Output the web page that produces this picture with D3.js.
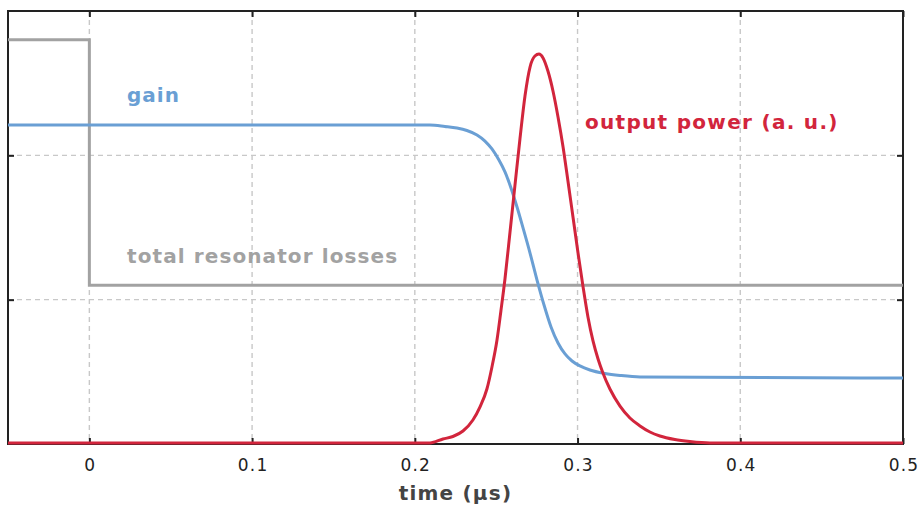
<!DOCTYPE html>
<html>
<head>
<meta charset="utf-8">
<script src="https://cdn.jsdelivr.net/npm/d3@7/dist/d3.min.js"></script>
<style>
  html, body { margin: 0; padding: 0; background: #fff; }
  svg { display: block; }
</style>
</head>
<body>
<svg id="chart" width="920" height="508"></svg>
<script>
// Q-switched laser pulse: gain, resonator losses and output power vs. time

// x axis ticks (µs)
const xTicks = [0, 0.1, 0.2, 0.3, 0.4, 0.5];
const yGrid = [1, 2];

// total resonator losses: high while the Q-switch is closed, drops at t = 0
const lossT = [-0.05, 0, 0, 0.5];
const lossV = [2.8, 2.8, 1.1, 1.1];

// gain (stored inversion) depleted by the pulse
const gainT = [-0.05, 0.2093, 0.2185, 0.2259, 0.2320, 0.2382, 0.2431, 0.2474, 0.2517, 0.2554,
               0.2591, 0.2628, 0.2665, 0.2708, 0.2751, 0.2794, 0.2837, 0.2880, 0.2923, 0.2966,
               0.3015, 0.3076, 0.3169, 0.3261, 0.3384, 0.5];
const gainV = [2.21, 2.21, 2.20, 2.189, 2.172, 2.141, 2.099, 2.044, 1.967, 1.885,
               1.774, 1.642, 1.497, 1.323, 1.136, 0.963, 0.811, 0.700, 0.624, 0.575,
               0.541, 0.513, 0.489, 0.475, 0.464, 0.457];

// output power (arbitrary units)
const powerT = [-0.05, 0.2093, 0.2173, 0.2234, 0.2296, 0.2357, 0.2400, 0.2443, 0.2474, 0.2505,
                0.2529, 0.2554, 0.2585, 0.2615, 0.2646, 0.2677, 0.2708, 0.2738, 0.2763, 0.2788,
                0.2818, 0.2849, 0.2880, 0.2911, 0.2941, 0.2972, 0.3003, 0.3034, 0.3064, 0.3095,
                0.3126, 0.3156, 0.3199, 0.3261, 0.3322, 0.3384, 0.3445, 0.3506, 0.3598, 0.3690,
                0.3813, 0.5];
const powerV = [0, 0, 0.028, 0.045, 0.083, 0.159, 0.249, 0.374, 0.527, 0.714,
                0.915, 1.136, 1.462, 1.781, 2.106, 2.404, 2.605, 2.681, 2.695, 2.668,
                2.577, 2.439, 2.259, 2.051, 1.815, 1.566, 1.316, 1.081, 0.873, 0.707,
                0.582, 0.485, 0.374, 0.256, 0.173, 0.118, 0.076, 0.0485, 0.024, 0.010,
                0, 0];

const colors = { gain: "#6a9fd4", power: "#d2253c", loss: "#a2a2a2" };

const svg = d3.select("#chart");
const plotL = 8, plotR = 903, plotT = 11, plotB = 444;

const x = d3.scaleLinear().domain([-0.05, 0.5]).range([plotL, plotR]);
const y = d3.scaleLinear().domain([0, 3]).range([plotB, plotT]);

// dashed grid
const grid = svg.append("g")
  .attr("stroke", "#c8c8c8").attr("stroke-width", 1.4).attr("stroke-dasharray", "5,4");
grid.selectAll("line.v").data(xTicks.filter(d => d < 0.5)).join("line").attr("class", "v")
  .attr("x1", d => x(d)).attr("x2", d => x(d)).attr("y1", plotT).attr("y2", plotB);
grid.selectAll("line.h").data(yGrid).join("line").attr("class", "h")
  .attr("x1", plotL).attr("x2", plotR).attr("y1", d => y(d)).attr("y2", d => y(d));

// frame with inward ticks
svg.append("rect")
  .attr("x", plotL).attr("y", plotT).attr("width", plotR - plotL).attr("height", plotB - plotT)
  .attr("fill", "none").attr("stroke", "#222").attr("stroke-width", 2);

const axB = d3.axisBottom(x).tickValues(xTicks).tickSizeInner(-6).tickSizeOuter(0).tickFormat("");
const axT = d3.axisTop(x).tickValues(xTicks).tickSizeInner(-6).tickSizeOuter(0).tickFormat("");
const axL = d3.axisLeft(y).tickValues(yGrid).tickSizeInner(-6).tickSizeOuter(0).tickFormat("");
const axR = d3.axisRight(y).tickValues(yGrid).tickSizeInner(-6).tickSizeOuter(0).tickFormat("");
[[axB, `translate(0,${plotB})`], [axT, `translate(0,${plotT})`],
 [axL, `translate(${plotL},0)`], [axR, `translate(${plotR},0)`]].forEach(([ax, tr]) => {
  const g = svg.append("g").attr("transform", tr).call(ax);
  g.select(".domain").remove();
  g.selectAll(".tick line").attr("stroke", "#222").attr("stroke-width", 2);
});

// tick labels
svg.append("g").selectAll("text").data(xTicks).join("text")
  .attr("x", d => x(d) + 1).attr("y", 471)
  .attr("text-anchor", "middle")
  .attr("font-family", "DejaVu Sans, sans-serif").attr("font-size", 17)
  .attr("letter-spacing", 1.2)
  .attr("fill", "#222")
  .text(d => d3.format("~g")(d));

svg.append("text")
  .attr("x", (plotL + plotR) / 2).attr("y", 500)
  .attr("text-anchor", "middle")
  .attr("font-family", "DejaVu Sans, sans-serif").attr("font-size", 20).attr("font-weight", "bold")
  .attr("letter-spacing", 1.2)
  .attr("fill", "#444")
  .text("time (µs)");

// curves
const stepLine = d3.line().x(d => x(d[0])).y(d => y(d[1]));
const smoothLine = d3.line().x(d => x(d[0])).y(d => y(d[1])).curve(d3.curveMonotoneX);
const zipPts = (t, v) => t.map((d, i) => [d, v[i]]);

svg.append("path").datum(zipPts(lossT, lossV)).attr("d", stepLine)
  .attr("fill", "none").attr("stroke", colors.loss).attr("stroke-width", 3);
svg.append("path").datum(zipPts(gainT, gainV)).attr("d", smoothLine)
  .attr("fill", "none").attr("stroke", colors.gain).attr("stroke-width", 3).attr("stroke-linejoin", "round");
svg.append("path").datum(zipPts(powerT, powerV)).attr("d", smoothLine)
  .attr("fill", "none").attr("stroke", colors.power).attr("stroke-width", 3).attr("stroke-linejoin", "round")
  .attr("transform", "translate(0,-1)");

// curve labels
const labels = [
  { text: "gain", x: 127, y: 102, color: colors.gain, ls: 1 },
  { text: "output power (a. u.)", x: 585, y: 129, color: colors.power, ls: 1.3 },
  { text: "total resonator losses", x: 127, y: 263, color: colors.loss, ls: 1.1 }
];
svg.append("g").selectAll("text").data(labels).join("text")
  .attr("x", d => d.x).attr("y", d => d.y)
  .attr("font-family", "DejaVu Sans, sans-serif").attr("font-size", 20).attr("font-weight", "bold")
  .attr("letter-spacing", d => d.ls)
  .attr("fill", d => d.color)
  .text(d => d.text);
</script>
</body>
</html>
